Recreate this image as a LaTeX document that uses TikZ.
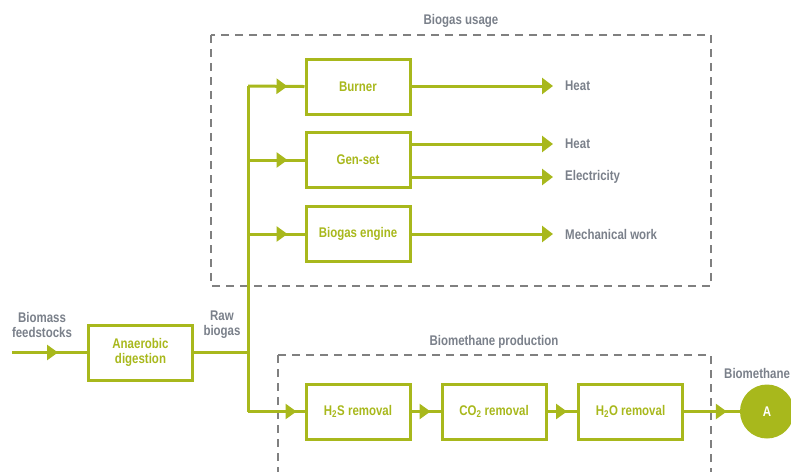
\documentclass[tikz,border=0pt]{standalone}
\usepackage{fontspec}
\setmainfont[FakeStretch=0.82]{Liberation Sans}
\usetikzlibrary{arrows.meta,decorations.markings}

\definecolor{biogreen}{RGB}{168,184,28}
\definecolor{labelgray}{RGB}{122,128,138}
\definecolor{dashgray}{RGB}{128,128,128}

\tikzset{
  midarrow/.style={flowline, postaction={decorate},
    decoration={markings, mark=at position #1 with {\arrow{Triangle[length=11pt,width=15pt]}}}},
  midarrow/.default=-10pt
}

\begin{document}
\begin{tikzpicture}[x=1pt,y=-1pt,font=\fontsize{14}{15}\selectfont\bfseries]
\tikzstyle{flowline} = [draw=biogreen, line width=3pt]
\tikzstyle{greenbox} = [draw=biogreen, line width=3pt, rectangle, text=biogreen,
    minimum width=104pt, minimum height=55pt, align=center, inner sep=2pt]
\tikzstyle{outarrow} = [flowline, -{Triangle[length=11pt,width=16pt]}, shorten >=12pt]
\tikzstyle{groupbox} = [draw=dashgray, line width=2.5pt, dash pattern=on 8pt off 6pt]
\tikzstyle{grouptitle} = [text=labelgray]
\tikzstyle{outlabel} = [text=labelgray, anchor=west, inner sep=0pt]

\useasboundingbox (0,0) rectangle (791,471);
\clip (0,0) rectangle (791,471);

% group frames
\draw[groupbox] (211,35) rectangle (711,286);
\node[grouptitle] (usagetitle) at (461,21) {Biogas usage};
\draw[groupbox] (278,355) rectangle (711,500);
\node[grouptitle] (prodtitle) at (494,342) {Biomethane production};

% digestion
\node[align=center, text=labelgray] (feed) at (42,325) {Biomass\\feedstocks};
\node[greenbox] (digest) at (140.5,352.5) {Anaerobic\\digestion};
\node[align=center, text=labelgray] (raw) at (222,325) {Raw\\biogas};
\coordinate (feedin) at (12,352.5);
\draw[midarrow=-29pt] (feedin) -- (digest);

% trunk
\coordinate (trunktop) at (248,86);
\coordinate (trunkjoin) at (248,352.5);
\coordinate (trunkbot) at (248,411.5);
\draw[flowline] (digest) -- (trunkjoin);
\draw[flowline] (trunktop) -- (trunkbot);

% biogas usage
\node[greenbox] (burner) at (358,87) {Burner};
\node[greenbox] (genset) at (358,160) {Gen-set};
\node[greenbox] (engine) at (358,234) {Biogas engine};
\coordinate (trunkgen) at (248,160);
\coordinate (trunkeng) at (248,234);
\draw[midarrow=-17pt] (trunktop) -- (burner);
\draw[midarrow=-17pt] (trunkgen) -- (genset);
\draw[midarrow=-17pt] (trunkeng) -- (engine);

\node[outlabel] (heatA) at (565,86) {Heat};
\node[outlabel] (heatB) at (565,144) {Heat};
\node[outlabel] (elec) at (565,177) {Electricity};
\node[outlabel] (mech) at (565,234) {Mechanical work};
\draw[outarrow] (burner.east |- heatA.west) -- (heatA.west);
\draw[outarrow] (genset.east |- heatB.west) -- (heatB.west);
\draw[outarrow] (genset.east |- elec.west) -- (elec.west);
\draw[outarrow] (engine.east |- mech.west) -- (mech.west);

% biomethane production
\node[greenbox] (hts) at (358,411.5) {H\textsubscript{2}S removal};
\node[greenbox] (cot) at (494,411.5) {CO\textsubscript{2} removal};
\node[greenbox] (hto) at (630.5,411.5) {H\textsubscript{2}O removal};
\node[circle, fill=biogreen, text=white, minimum size=54pt, inner sep=0pt] (bmA) at (767,411.5) {A};
\node[outlabel] (bmlabel) at (724,373) {Biomethane};
\draw[midarrow=-8pt] (trunkbot) -- (hts);
\draw[midarrow] (hts) -- (cot);
\draw[midarrow] (cot) -- (hto);
\draw[midarrow=-13pt] (hto) -- (bmA);
\end{tikzpicture}
\end{document}
